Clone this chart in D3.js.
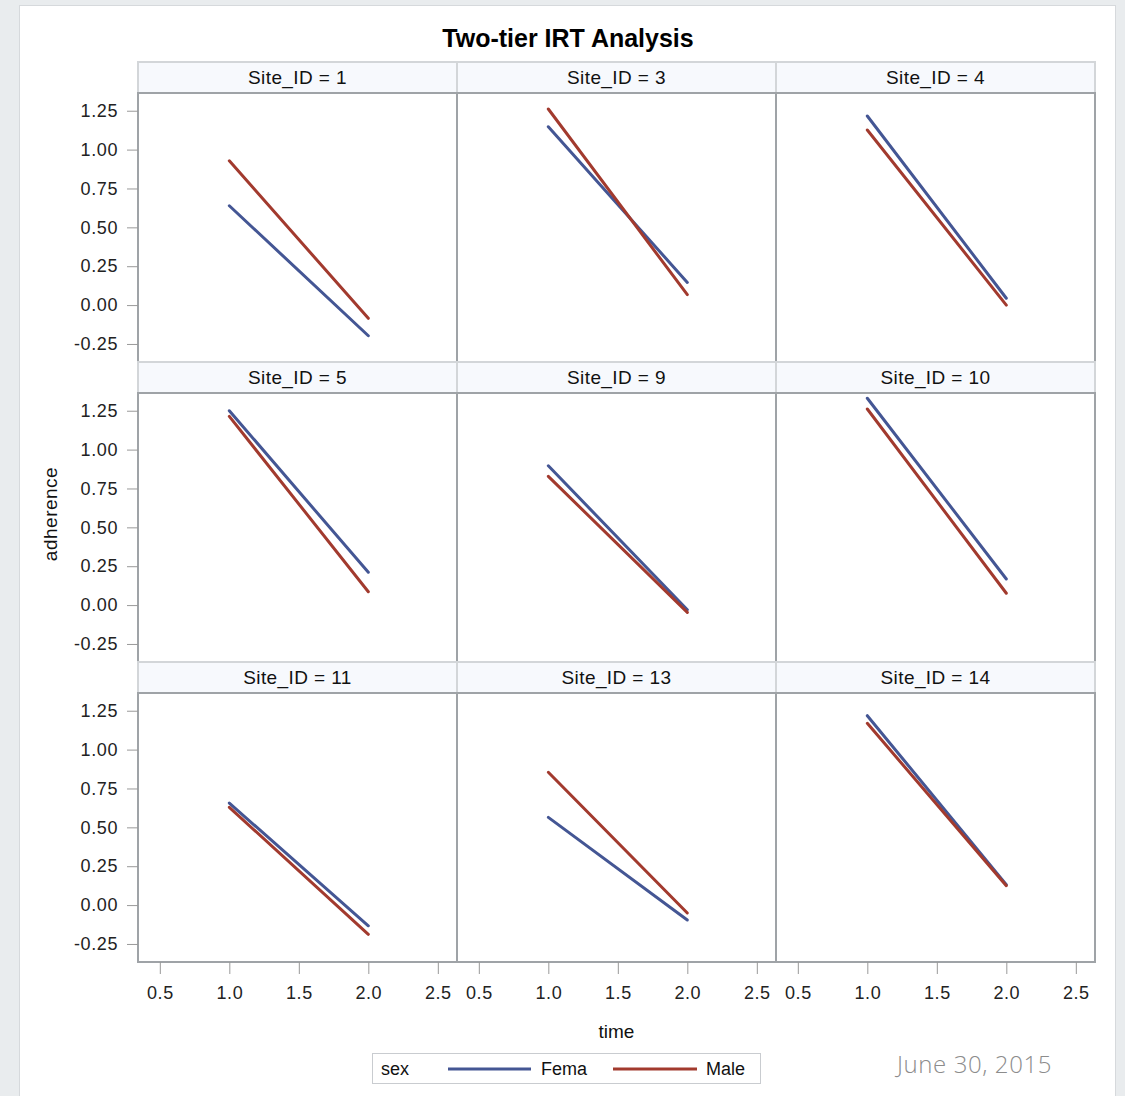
<!DOCTYPE html>
<html>
<head>
<meta charset="utf-8">
<script src="https://cdn.jsdelivr.net/npm/d3@7"></script>
<style>
  html, body { margin: 0; padding: 0; background: #e9ecee; }
  svg { display: block; font-family: "Liberation Sans", Arial, sans-serif; }
  .tick text { fill: #222; }
</style>
</head>
<body>
<div id="view"></div>
<script>
  /* ============ DATA ============ */
  const sites   = [1, 3, 4, 5, 9, 10, 11, 13, 14];
  const times   = [1.0, 2.0];
  // adherence at time 1.0 and 2.0, per site
  const femaleVals = [
    [0.639, -0.197], [1.147, 0.146], [1.216, 0.044],
    [1.250, 0.211], [0.896, -0.030], [1.330, 0.168],
    [0.656, -0.133], [0.564, -0.096], [1.218, 0.131]
  ];
  const maleVals = [
    [0.928, -0.085], [1.261, 0.067], [1.126, 0.000],
    [1.214, 0.086], [0.828, -0.047], [1.261, 0.076],
    [0.629, -0.188], [0.854, -0.051], [1.169, 0.125]
  ];
  const sexes   = ["Fema", "Male"];
  const xTicks  = [0.5, 1.0, 1.5, 2.0, 2.5];
  const yTicks  = [-0.25, 0, 0.25, 0.5, 0.75, 1.0, 1.25];

  const COLORS = { Fema: "#445694", Male: "#a23a2e" };

  /* ============ LAYOUT ============ */
  const W = 1125, H = 1096;
  const gridLeft = 138, gridTop = 62;
  const colW = 319, headH = 31, plotH = 269, rowH = headH + plotH;
  const nCols = 3;

  const svg = d3.select("#view").append("svg")
    .attr("width", W).attr("height", H);

  // card
  svg.append("rect")
    .attr("x", 19.5).attr("y", 5.5).attr("width", 1096).attr("height", H)
    .attr("fill", "#fff").attr("stroke", "#d6d9dc");

  svg.append("text")
    .attr("x", 568).attr("y", 47)
    .attr("text-anchor", "middle")
    .style("font-size", "25px").style("font-weight", "bold")
    .attr("fill", "#000")
    .text("Two-tier IRT Analysis");

  const x = d3.scaleLinear().domain([0.343, 2.638]).range([0, colW]);
  const y = d3.scaleLinear().domain([-0.366, 1.364]).range([plotH, 0]);
  const fmtY = v => d3.format(".2f")(v).replace("\u2212", "-");

  const line = d3.line().x(d => x(d[0])).y(d => y(d[1]));

  sites.forEach((site, i) => {
    const c = i % nCols, r = Math.floor(i / nCols);
    const px = gridLeft + c * colW, py = gridTop + r * rowH;

    // header strip
    svg.append("rect")
      .attr("x", px).attr("y", py).attr("width", colW).attr("height", headH)
      .attr("fill", "#f7f9fd").attr("stroke", "#d3d6d9").attr("stroke-width", 2);
    svg.append("text")
      .attr("x", px + colW / 2).attr("y", py + 21.5)
      .attr("text-anchor", "middle")
      .style("font-size", "19px").style("letter-spacing", "0.4px").attr("fill", "#111")
      .text(`Site_ID = ${site}`);

    const g = svg.append("g").attr("transform", `translate(${px},${py + headH})`);

    g.append("rect")
      .attr("width", colW).attr("height", plotH)
      .attr("fill", "#fff").attr("stroke", "#9fa3a7").attr("stroke-width", 2);

    const series = [
      { sex: "Fema", pts: times.map((t, k) => [t, femaleVals[i][k]]) },
      { sex: "Male", pts: times.map((t, k) => [t, maleVals[i][k]]) }
    ];
    g.selectAll("path.fit")
      .data(series)
      .join("path")
      .attr("class", "fit")
      .attr("d", d => line(d.pts))
      .attr("fill", "none")
      .attr("stroke", d => COLORS[d.sex])
      .attr("stroke-width", 3)
      .attr("stroke-linecap", "round");

    // Y axis on first column
    if (c === 0) {
      const ax = g.append("g")
        .call(d3.axisLeft(y).tickValues(yTicks).tickFormat(fmtY).tickSizeOuter(0).tickSizeInner(11).tickPadding(9));
      ax.select(".domain").remove();
      ax.selectAll(".tick line").attr("stroke", "#999");
      ax.selectAll(".tick text").style("font-size", "18px").style("letter-spacing", "0.6px");
      ax.attr("font-family", null).attr("font-size", null);
    }
    // X axis on last row
    if (r === Math.floor((sites.length - 1) / nCols)) {
      const ax = g.append("g").attr("transform", `translate(0,${plotH})`)
        .call(d3.axisBottom(x).tickValues(xTicks).tickFormat(d3.format(".1f")).tickSizeOuter(0).tickSizeInner(12).tickPadding(12));
      ax.select(".domain").remove();
      ax.selectAll(".tick line").attr("stroke", "#999");
      ax.selectAll(".tick text").style("font-size", "18px").style("letter-spacing", "0.6px");
      ax.attr("font-family", null).attr("font-size", null);
    }
  });

  // axis labels
  svg.append("text")
    .attr("x", gridLeft + nCols * colW / 2).attr("y", 1038)
    .attr("text-anchor", "middle")
    .style("font-size", "19px").attr("fill", "#111")
    .text("time");

  svg.append("text")
    .attr("transform", "translate(57,514) rotate(-90)")
    .attr("text-anchor", "middle")
    .style("font-size", "19px").style("letter-spacing", "0.5px").attr("fill", "#111")
    .text("adherence");

  /* ============ LEGEND ============ */
  const lg = svg.append("g").attr("transform", "translate(372,1053)");
  lg.append("rect")
    .attr("x", 0.5).attr("y", 0.5).attr("width", 388).attr("height", 30)
    .attr("fill", "#fff").attr("stroke", "#c9ccd0");
  lg.append("text").attr("x", 9).attr("y", 22)
    .style("font-size", "18px").attr("fill", "#111").text("sex");

  const entries = [
    { sex: sexes[0], x0: 76, x1: 159, tx: 169 },
    { sex: sexes[1], x0: 241, x1: 325, tx: 334 }
  ];
  entries.forEach(e => {
    lg.append("line")
      .attr("x1", e.x0).attr("x2", e.x1).attr("y1", 16).attr("y2", 16)
      .attr("stroke", COLORS[e.sex]).attr("stroke-width", 3);
    lg.append("text").attr("x", e.tx).attr("y", 22)
      .style("font-size", "18px").attr("fill", "#111").text(e.sex);
  });

  // footer date
  svg.append("text")
    .attr("x", 897).attr("y", 1073)
    .style("font-family", "'Open Sans', sans-serif")
    .style("font-size", "24px").style("font-weight", 300).style("letter-spacing", "0.6px")
    .attr("fill", "#8c8c8c")
    .text("June 30, 2015");
</script>
</body>
</html>
